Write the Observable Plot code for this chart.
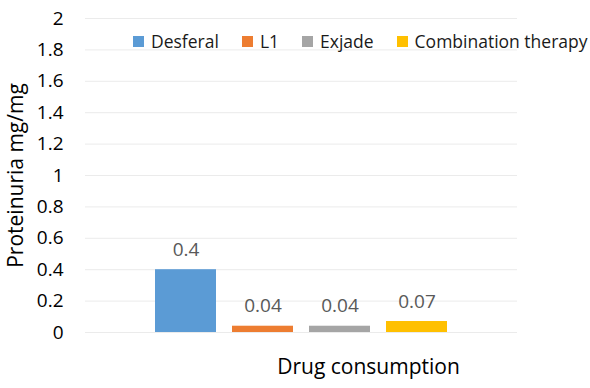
<!DOCTYPE html>
<html>
<head>
<meta charset="utf-8">
<script src="https://cdn.jsdelivr.net/npm/d3@7"></script>
<script src="https://cdn.jsdelivr.net/npm/@observablehq/plot@0.6"></script>
<style>
  html, body { margin: 0; padding: 0; background: #fff; }
  #chart { position: relative; width: 590px; height: 388px; font-family: "Open Sans", sans-serif; }
  #legend { position: absolute; top: 29px; left: 133px; display: flex; align-items: center; font-size: 17.5px; color: #1a1a1a; white-space: nowrap; }
  #legend .item { display: flex; align-items: center; margin-right: 23px; }
  #legend .item:last-child { margin-right: 0; }
  #legend .sw { width: 11px; height: 11px; margin-right: 7px; }
</style>
</head>
<body>
<div id="chart"><div id="legend"></div></div>
<script>
// Proteinuria by drug
const drugs = ["Desferal", "L1", "Exjade", "Combination therapy"];
const proteinuria = [0.4, 0.04, 0.04, 0.07];
const colors = ["#5B9BD5", "#ED7D31", "#A5A5A5", "#FFC000"];
const yTicks = [0, 0.2, 0.4, 0.6, 0.8, 1, 1.2, 1.4, 1.6, 1.8, 2];

const rows = drugs.map((d, i) => ({drug: d, value: proteinuria[i]}));

const chart = Plot.plot({
  width: 590,
  height: 388,
  marginLeft: 85,
  marginRight: 73,
  marginTop: 18,
  marginBottom: 56,
  style: {fontFamily: "'Open Sans', sans-serif", fontSize: "18px", color: "#000", background: "#fff"},
  x: {domain: drugs, paddingInner: 0.205, paddingOuter: 0.872, axis: null},
  y: {domain: [0, 2], ticks: yTicks, tickFormat: d => String(d)},
  color: {domain: drugs, range: colors},
  marks: [
    Plot.ruleY(yTicks, {stroke: "#ebebeb", strokeWidth: 1}),
    Plot.barY(rows, {x: "drug", y: "value", fill: "drug"}),
    Plot.text(rows, {x: "drug", y: "value", text: d => String(d.value), lineAnchor: "bottom", dy: -14, fill: "#595959", fontSize: 19}),
    Plot.axisY(yTicks, {tickSize: 0, tickPadding: 22, tickFormat: d => String(d), fontSize: 19, fill: "#000", label: null}),
    Plot.text(["Proteinuria mg/mg"], {frameAnchor: "left", textAnchor: "middle", rotate: -90, dx: -69, fontSize: 21, fill: "#000"}),
    Plot.text(["Drug consumption"], {frameAnchor: "bottom", dx: 67, dy: 41, fontSize: 21, fill: "#000"})
  ]
});
document.getElementById("chart").prepend(chart);

// Legend row
const legend = d3.select("#legend");
const items = legend.selectAll(".item").data(drugs).join("div").attr("class", "item");
items.append("div").attr("class", "sw").style("background", (d, i) => colors[i]);
items.append("span").text(d => d);
</script>
</body>
</html>
